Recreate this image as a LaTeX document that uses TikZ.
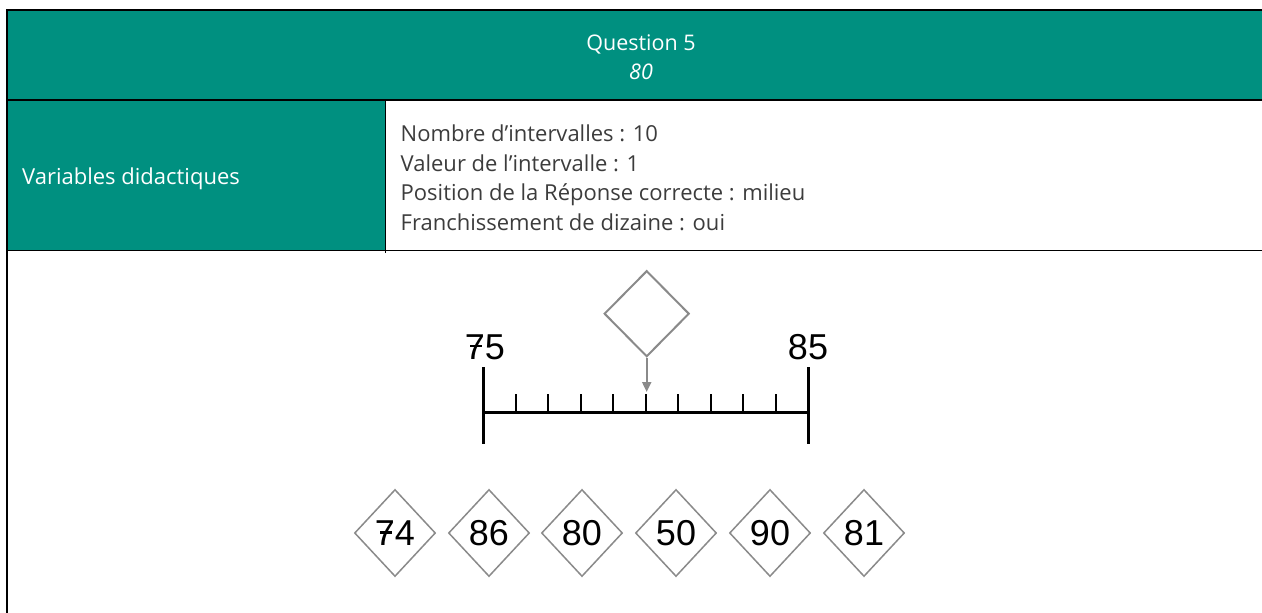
\documentclass[tikz,border=0pt]{standalone}
\usepackage{fontspec}
\setmainfont{Open Sans}
\newfontfamily\numfont{Liberation Sans}
\usetikzlibrary{arrows.meta,shapes.geometric,calc}
\definecolor{hdrteal}{RGB}{0,144,128}
\definecolor{bodytext}{RGB}{60,60,60}
\definecolor{diagray}{RGB}{138,138,138}
\newcommand\crossseven{\makebox[0pt][l]{\hspace{0.15em}\rule[0.33em]{0.33em}{0.07em}}7}
\tikzset{
  border/.style={line width=1.5pt, black},
  outer/.style={line width=2pt, black},
  hdrtxt/.style={text=white, font=\fontsize{21.5}{21.5}\selectfont, anchor=base, inner sep=0pt},
  celltxt/.style={text=bodytext, font=\fontsize{22}{22}\selectfont, anchor=base west, inner sep=0pt},
  axisline/.style={line width=2.5pt, black},
  tickline/.style={line width=2pt, black},
  endlabel/.style={font=\numfont\fontsize{36}{36}\selectfont, anchor=base, inner sep=0pt},
  choice/.style={diamond, draw=diagray, line width=1.5pt, inner sep=0pt, minimum width=81pt, minimum height=87pt, font=\numfont\fontsize{36}{36}\selectfont},
  pointer/.style={draw=diagray, line width=2pt, -{Triangle[length=10pt,width=9pt]}}
}
\begin{document}
\begin{tikzpicture}[x=1pt,y=-1pt]
\useasboundingbox (0,0) rectangle (1262,613);
% table
\fill[hdrteal] (7,10) rectangle (1262,100);
\fill[hdrteal] (7,100) rectangle (385.5,250.5);
\draw[border] (7,100) -- (1262,100);
\draw[border] (7,250.5) -- (1262,250.5);
\draw[border] (385.5,100) -- (385.5,253);
\draw[outer] (7,613) -- (7,10) -- (1262,10);
% header texts
\node[hdrtxt] (q) at (641,50) {Question 5};
\node[hdrtxt] (ans) at (641,79) {\itshape 80};
\node[hdrtxt, font=\fontsize{22}{22}\selectfont, anchor=base west] (var) at (22,184) {Variables didactiques};
\node[celltxt] (l1) at (400.5,141.7) {Nombre d’intervalles : 10};
\node[celltxt] (l2) at (400.5,171.2) {Valeur de l’intervalle : 1};
\node[celltxt] (l3) at (400.5,200.7) {Position de la Réponse correcte : milieu};
\node[celltxt] (l4) at (400.5,230.4) {Franchissement de dizaine : oui};
% number line
\coordinate (a) at (483.3,412.3);
\coordinate (b) at (808.3,412.3);
\draw[axisline] (a) -- (b);
\draw[axisline] (483.3,367.3) -- (483.3,444);
\draw[axisline] (808.3,367.3) -- (808.3,444);
\foreach \i in {1,...,9}{
  \draw[tickline] ($(a)!\i/10!(b)$) -- ++(0,-18.3);
}
\node[endlabel] (n75) at (485,359) {\crossseven5};
\node[endlabel] (n85) at (808,359) {85};
% answer box and arrow
\node[choice, line width=2pt, minimum width=85pt, minimum height=86pt] (box) at (646.7,313.7) {};
\coordinate (tip) at (646.7,392);
\draw[pointer] (box.south) -- (tip);
% choices
\node[choice] (c1) at (395,533) {\crossseven4};
\node[choice] (c2) at (489,533) {86};
\node[choice] (c3) at (582,533) {80};
\node[choice] (c4) at (676,533) {50};
\node[choice] (c5) at (770,533) {90};
\node[choice] (c6) at (864,533) {81};
\end{tikzpicture}
\end{document}
